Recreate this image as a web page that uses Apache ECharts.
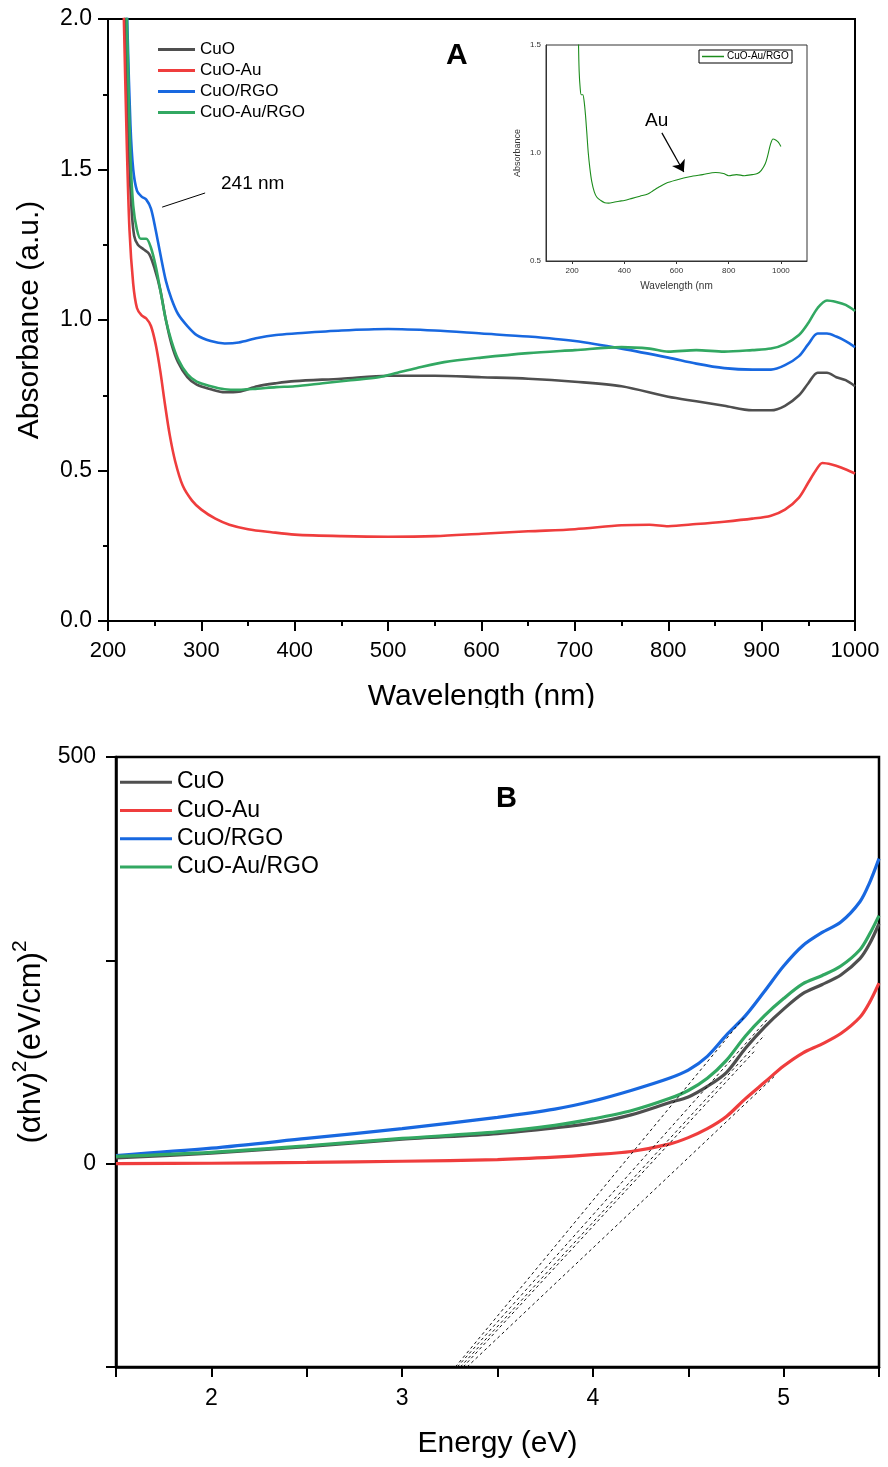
<!DOCTYPE html>
<html>
<head>
<meta charset="utf-8">
<script src="https://cdn.jsdelivr.net/npm/echarts@6/dist/echarts.min.js"></script>
<style>
html,body{margin:0;padding:0;background:#fff;}
#a{position:absolute;left:0;top:0;width:888px;height:708px;}
#b{position:absolute;left:0;top:708px;width:888px;height:759px;}
</style>
</head>
<body>
<div id="a"></div>
<div id="b"></div>
<script>
// ---------- Panel A data (wavelength nm, absorbance a.u.) ----------
const seriesNames = ['CuO', 'CuO-Au', 'CuO/RGO', 'CuO-Au/RGO'];
const cuoNm  = [216,219,222,225,228,232,238,244,250,256,262,268,275,285,295,310,325,340,360,380,400,450,500,550,600,650,700,750,800,830,860,890,910,925,940,950,960,970,980,990,1000];
const cuoAbs = [2.3,1.95,1.6,1.38,1.28,1.25,1.235,1.22,1.17,1.1,1.0,0.92,0.86,0.81,0.785,0.77,0.76,0.762,0.78,0.79,0.797,0.805,0.815,0.815,0.81,0.805,0.795,0.78,0.745,0.73,0.715,0.70,0.70,0.715,0.75,0.79,0.825,0.825,0.81,0.80,0.78];
const cuoAuNm  = [214,217,220,223,227,231,236,241,246,251,256,261,266,272,280,290,300,315,330,350,375,400,450,500,550,600,650,700,750,780,800,830,860,890,910,925,940,950,958,965,975,985,1000];
const cuoAuAbs = [2.4,2.0,1.6,1.3,1.12,1.04,1.015,1.005,0.98,0.92,0.83,0.72,0.62,0.53,0.45,0.40,0.37,0.34,0.32,0.305,0.295,0.287,0.282,0.28,0.282,0.29,0.298,0.305,0.318,0.32,0.315,0.322,0.33,0.34,0.35,0.37,0.41,0.46,0.50,0.525,0.52,0.51,0.49];
const cuoRgoNm  = [218,221,224,227,231,236,241,246,251,256,262,268,275,285,295,310,325,340,360,380,400,450,500,550,600,650,700,750,800,830,860,890,910,925,940,950,960,970,980,990,1000];
const cuoRgoAbs = [2.3,1.95,1.65,1.5,1.43,1.41,1.40,1.37,1.30,1.22,1.13,1.07,1.02,0.98,0.95,0.93,0.922,0.925,0.94,0.95,0.955,0.965,0.97,0.965,0.955,0.945,0.93,0.905,0.875,0.855,0.84,0.835,0.835,0.85,0.88,0.92,0.955,0.955,0.945,0.93,0.91];
const cuoAuRgoNm  = [218,221,224,227,231,235,241,246,251,256,262,268,275,285,295,310,325,340,360,380,400,430,460,490,510,530,560,600,650,700,750,780,800,830,860,890,910,925,940,950,960,970,980,990,1000];
const cuoAuRgoAbs = [2.3,1.9,1.55,1.38,1.3,1.27,1.27,1.24,1.18,1.1,1.0,0.93,0.87,0.82,0.795,0.78,0.77,0.768,0.772,0.777,0.78,0.79,0.80,0.81,0.825,0.84,0.86,0.875,0.89,0.90,0.91,0.905,0.895,0.90,0.895,0.90,0.905,0.92,0.95,0.99,1.04,1.065,1.06,1.05,1.03];
const insetXTicks = [200,400,600,800,1000];

// ---------- Panel B data (energy eV, (alpha h nu)^2) ----------
const energy = [1.5,2.0,2.5,3.0,3.5,3.8,4.0,4.2,4.4,4.5,4.6,4.7,4.8,4.9,5.0,5.1,5.2,5.3,5.4,5.45,5.5];
const tCuO      = [7,13,21,30,37,44,50,60,75,82,95,112,142,168,190,209,220,232,252,270,295];
const tCuOAu    = [0,0.5,1.5,3,5,8,11,15,24,32,43,58,80,100,120,136,147,160,180,198,222];
const tCuORGO   = [10,19,31,43,57,67,77,90,105,115,132,158,182,212,243,268,284,297,322,345,375];
const tCuOAuRGO = [9,14,22,31,39,47,55,65,80,90,105,127,157,182,203,221,231,243,263,282,305];
// Tauc extrapolation lines (start / end points)
const tangentE0 = [3.279,3.289,3.305,3.32,3.34];
const tangentV0 = [-250,-250,-250,-250,-250];
const tangentE1 = [4.80,4.92,4.90,4.85,4.95];
const tangentV1 = [182,179,158,139,107];

const colors = ['#4f4f4f', '#ef3d3d', '#1868e0', '#32a862'];
const FONT = "'Liberation Sans', Arial, Helvetica, sans-serif";

function pairs(xs, ys) { return xs.map((x, i) => [x, ys[i]]); }

// ================= Chart A =================
const chartA = echarts.init(document.getElementById('a'));
const dataA = [pairs(cuoNm, cuoAbs), pairs(cuoAuNm, cuoAuAbs), pairs(cuoRgoNm, cuoRgoAbs), pairs(cuoAuRgoNm, cuoAuRgoAbs)];
const seriesA = dataA.map((d, i) => ({
  name: seriesNames[i], type: 'line', data: d, showSymbol: false, smooth: 0.3,
  clip: true, lineStyle: { width: 2.6, color: colors[i] }, itemStyle: { color: colors[i] }, z: 3 + i,
  silent: true
}));
// leader line for "241 nm"
seriesA[2].markLine = {
  silent: true, symbol: ['none', 'none'], label: { show: false },
  lineStyle: { color: '#000', width: 1, type: 'solid' },
  data: [[{ coord: [258, 1.375] }, { coord: [304, 1.422] }]]
};
seriesA.push({
  name: 'inset', type: 'line', xAxisIndex: 1, yAxisIndex: 1, data: pairs(cuoAuRgoNm, cuoAuRgoAbs),
  showSymbol: false, smooth: 0.3, clip: true, silent: true,
  lineStyle: { width: 1.1, color: '#1c8c1c' }, itemStyle: { color: '#1c8c1c' },
  markLine: {
    silent: true, symbol: ['none', 'arrow'], symbolSize: 11, label: { show: false },
    lineStyle: { color: '#000', width: 1.2, type: 'solid' },
    itemStyle: { color: '#000' },
    data: [[{ coord: [544, 1.093] }, { coord: [628, 0.912] }]]
  }
});

chartA.setOption({
  animation: false,
  textStyle: { fontFamily: FONT },
  grid: [
    { left: 108, top: 19, width: 747, height: 602, show: true, borderColor: '#000', borderWidth: 2, outerBoundsMode: 'none', containLabel: false },
    { left: 546, top: 45, width: 261, height: 216, show: true, borderColor: '#333', borderWidth: 1, outerBoundsMode: 'none', containLabel: false }
  ],
  xAxis: [
    {
      type: 'value', gridIndex: 0, min: 200, max: 1000, interval: 100,
      name: 'Wavelength (nm)', nameLocation: 'middle', nameGap: 61,
      nameTextStyle: { fontSize: 30, color: '#000', fontFamily: FONT },
      axisLine: { show: true, onZero: false, lineStyle: { color: '#000', width: 2 } },
      axisTick: { show: true, inside: false, length: 10, lineStyle: { color: '#000', width: 2 } },
      minorTick: { show: true, splitNumber: 2, length: 5, lineStyle: { color: '#000', width: 2 } },
      splitLine: { show: false },
      axisLabel: { fontSize: 22, color: '#000', margin: 19, fontFamily: FONT, formatter: v => String(v) }
    },
    {
      type: 'value', gridIndex: 1, min: 100, max: 1100, interval: 100,
      name: 'Wavelength (nm', nameLocation: 'middle', nameGap: 20,
      nameTextStyle: { fontSize: 10, color: '#333', fontFamily: FONT },
      axisLine: { show: true, onZero: false, lineStyle: { color: '#333', width: 1 } },
      axisTick: { show: true, length: 3, customValues: insetXTicks, lineStyle: { color: '#333', width: 1 } },
      splitLine: { show: false },
      axisLabel: { fontSize: 8, color: '#333', margin: 6, customValues: insetXTicks, fontFamily: FONT,
        formatter: v => (v % 200 === 0 && v >= 200 && v <= 1000) ? String(v) : '' }
    }
  ],
  yAxis: [
    {
      type: 'value', gridIndex: 0, min: 0, max: 2, interval: 0.5,
      name: 'Absorbance (a.u.)', nameLocation: 'middle', nameGap: 63,
      nameTextStyle: { fontSize: 30, color: '#000', fontFamily: FONT },
      axisLine: { show: true, onZero: false, lineStyle: { color: '#000', width: 2 } },
      axisTick: { show: true, length: 10, lineStyle: { color: '#000', width: 2 } },
      minorTick: { show: true, splitNumber: 2, length: 5, lineStyle: { color: '#000', width: 2 } },
      splitLine: { show: false },
      axisLabel: { fontSize: 23, color: '#000', margin: 16, fontFamily: FONT, formatter: v => v.toFixed(1) }
    },
    {
      type: 'value', gridIndex: 1, min: 0.5, max: 1.5, interval: 0.5,
      name: 'Absorbance', nameLocation: 'middle', nameGap: 24,
      nameTextStyle: { fontSize: 9, color: '#333', fontFamily: FONT },
      axisLine: { show: true, onZero: false, lineStyle: { color: '#333', width: 1 } },
      axisTick: { show: false },
      splitLine: { show: false },
      axisLabel: { fontSize: 8, color: '#333', margin: 5, fontFamily: FONT, formatter: v => v.toFixed(1) }
    }
  ],
  legend: {
    data: seriesNames, orient: 'vertical', left: 158, top: 39, icon: 'rect',
    itemWidth: 37, itemHeight: 3, itemGap: 0, padding: 0,
    textStyle: { fontSize: 17, color: '#000', lineHeight: 21, fontFamily: FONT },
    selectedMode: false
  },
  graphic: [
    { type: 'text', left: 446, top: 41, style: { text: 'A', fontSize: 30, fontWeight: 'bold', fill: '#000', fontFamily: FONT } },
    { type: 'text', left: 221, top: 174, style: { text: '241 nm', fontSize: 19, fill: '#000', fontFamily: FONT } },
    { type: 'text', left: 645, top: 111, style: { text: 'Au', fontSize: 19, fill: '#000', fontFamily: FONT } },
    { type: 'rect', shape: { x: 699, y: 50, width: 93, height: 13 }, style: { fill: '#fff', stroke: '#000', lineWidth: 1 }, z: 10 },
    { type: 'line', shape: { x1: 702, y1: 56.5, x2: 724, y2: 56.5 }, style: { stroke: '#1c8c1c', lineWidth: 1.5 }, z: 11 },
    { type: 'text', x: 727, y: 56.5, style: { text: 'CuO-Au/RGO', fontSize: 10, fill: '#000', verticalAlign: 'middle', fontFamily: FONT }, z: 11 }
  ],
  series: seriesA
});

// ================= Chart B =================
const chartB = echarts.init(document.getElementById('b'));
const valsB = [tCuO, tCuOAu, tCuORGO, tCuOAuRGO];
const seriesB = valsB.map((v, i) => ({
  name: seriesNames[i], type: 'line', data: pairs(energy, v), showSymbol: false, smooth: 0.3,
  clip: true, silent: true, lineStyle: { width: 3.2, color: colors[i] }, itemStyle: { color: colors[i] }, z: 3 + i
}));
tangentE0.forEach((e0, i) => {
  seriesB.push({
    name: 'tangent' + i, type: 'line', data: [[e0, tangentV0[i]], [tangentE1[i], tangentV1[i]]],
    showSymbol: false, silent: true, clip: true, z: 10,
    lineStyle: { width: 1, color: '#111', type: [3, 3] }, itemStyle: { color: '#111' }
  });
});

chartB.setOption({
  animation: false,
  textStyle: { fontFamily: FONT },
  grid: { left: 116, top: 49, width: 763, height: 610, show: true, borderColor: '#000', borderWidth: 2.5, outerBoundsMode: 'none', containLabel: false },
  xAxis: {
    type: 'value', min: 1.5, max: 5.5, interval: 0.5,
    name: 'Energy (eV)', nameLocation: 'middle', nameGap: 62,
    nameTextStyle: { fontSize: 30, color: '#000', fontFamily: FONT },
    axisLine: { show: true, onZero: false, lineStyle: { color: '#000', width: 2.5 } },
    axisTick: { show: true, length: 10, lineStyle: { color: '#000', width: 2 } },
    splitLine: { show: false },
    axisLabel: { fontSize: 23, color: '#000', margin: 20, fontFamily: FONT,
      formatter: v => Number.isInteger(v) ? String(v) : '' }
  },
  yAxis: {
    type: 'value', min: -250, max: 500, interval: 250,
    name: '{n|(αhv)}{s|2}{n|(eV/cm)}{s|2}', nameLocation: 'middle', nameGap: 60,
    nameTextStyle: {
      fontSize: 31, color: '#000', fontFamily: FONT, padding: [0, 0, 0, 40],
      rich: {
        n: { fontSize: 31, lineHeight: 37, verticalAlign: 'bottom', fontFamily: FONT, color: '#000' },
        s: { fontSize: 21, lineHeight: 21, verticalAlign: 'top', fontFamily: FONT, color: '#000' }
      }
    },
    axisLine: { show: true, onZero: false, lineStyle: { color: '#000', width: 2.5 } },
    axisTick: { show: true, length: 10, lineStyle: { color: '#000', width: 2 } },
    splitLine: { show: false },
    axisLabel: { fontSize: 23, color: '#000', margin: 20, fontFamily: FONT,
      formatter: v => (v === 0 || v === 500) ? String(v) : '' }
  },
  legend: {
    data: seriesNames, orient: 'vertical', left: 120, top: 60, icon: 'rect',
    itemWidth: 52, itemHeight: 3, itemGap: 0, padding: 0,
    textStyle: { fontSize: 23, color: '#000', lineHeight: 28.3, fontFamily: FONT },
    selectedMode: false
  },
  graphic: [
    { type: 'text', left: 496, top: 76, style: { text: 'B', fontSize: 29, fontWeight: 'bold', fill: '#000', fontFamily: FONT } }
  ],
  series: seriesB
});
</script>
</body>
</html>
